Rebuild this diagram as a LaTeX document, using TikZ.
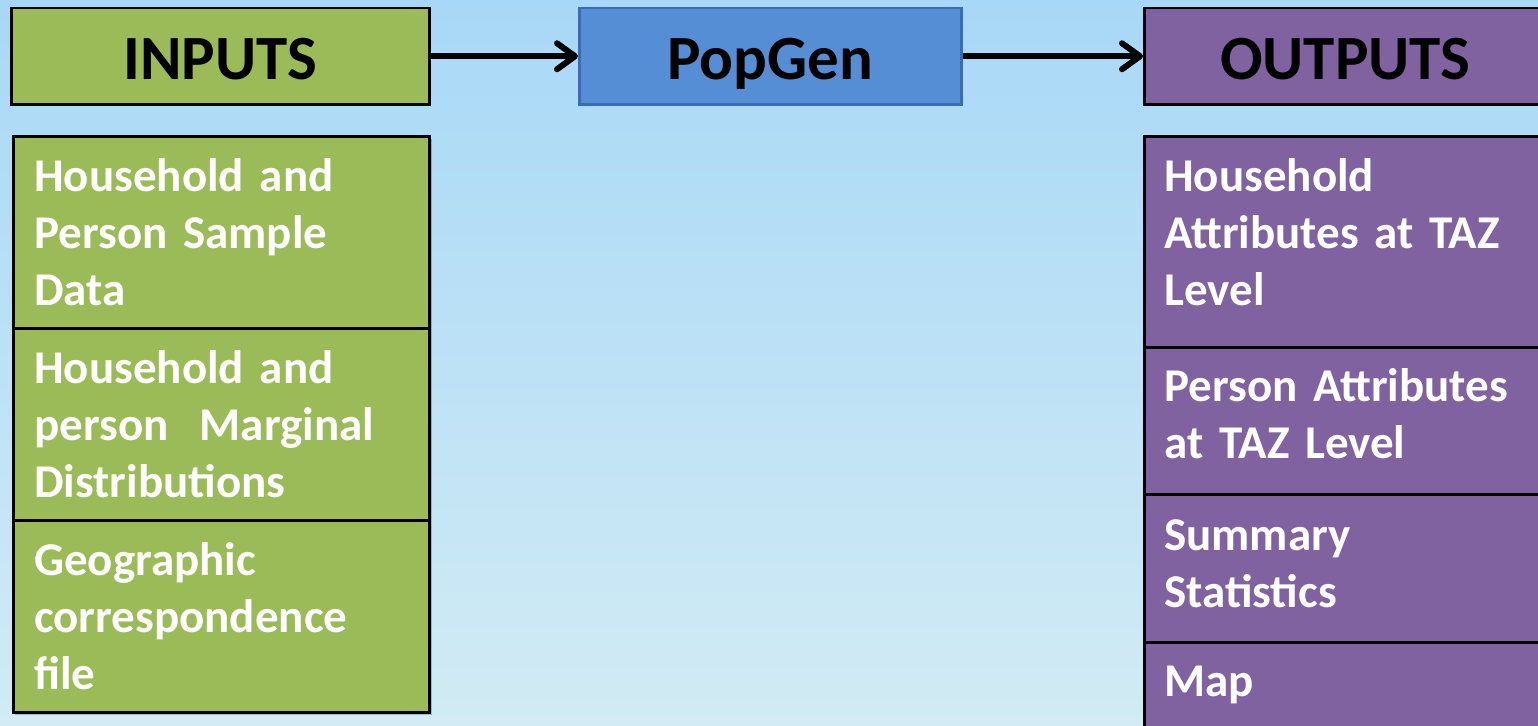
\documentclass[tikz,border=0pt]{standalone}
\usepackage{fontspec}
\setmainfont{Carlito}
\usetikzlibrary{arrows.meta}

\definecolor{inGreen}{RGB}{155,187,89}
\definecolor{popBlue}{RGB}{85,142,213}
\definecolor{popEdge}{RGB}{58,108,178}
\definecolor{outPurple}{RGB}{128,98,160}
\definecolor{skyTop}{RGB}{168,216,247}
\definecolor{skyBottom}{RGB}{210,235,244}

\tikzset{every picture/.style={line width=2.5pt}}
\tikzset{
  headbox/.style={draw=black, anchor=north west, minimum height=96pt, inner sep=0pt,
    text height=46pt, text depth=0pt, font=\fontsize{63}{70}\selectfont\bfseries},
  listbox/.style={draw=black, anchor=north west, align=left, inner xsep=21pt, inner ysep=0pt,
    text width=374pt, text=white, font=\fontsize{47}{57}\selectfont\bfseries},
  outbox/.style={listbox, fill=outPurple, inner xsep=20pt, text width=362pt},
  flow/.style={-{Straight Barb[length=18pt,width=26pt,round]}, line width=6pt}
}

\begin{document}
\begin{tikzpicture}[x=1pt,y=1pt,yscale=-1,xscale=1]
		\useasboundingbox (0,0) rectangle (1538,725);
		\clip (0,0) rectangle (1538,725);
		%Shape: Background
		\shade [top color=skyTop, bottom color=skyBottom] (0,0) rectangle (1538,725);

		%Shape: Header boxes
		\node [headbox, fill=inGreen, minimum width=418pt] (inputs) at (10,7) {INPUTS};
		\node [headbox, fill=popBlue, draw=popEdge, minimum width=382pt] (popgen) at (578,7) {PopGen};
		\node [headbox, fill=outPurple, minimum width=402pt] (outputs) at (1143,7) {OUTPUTS};

		%Straight Lines: flow arrows
		\draw [flow] (inputs.east) -- (popgen.west);
		\draw [flow] (popgen.east) -- (outputs.west);

		%Shape: shadow under inputs list
		\fill [black, opacity=0.22] (15,139) rectangle (432,715);

		%Shape: Inputs list
		\node [listbox, fill=inGreen, minimum height=192pt] (in1) at (12,135) {Household and\\Person Sample\\Data};
		\node [listbox, fill=inGreen, minimum height=192pt] (in2) at (12,327) {Household and\\person\ \ Marginal\\Distributions};
		\node [listbox, fill=inGreen, minimum height=192pt] (in3) at (12,519) {Geographic\\correspondence\\file};

		%Shape: Outputs list
		\node [outbox, minimum height=211pt, text depth=134pt] (out1) at (1143,135) {Household\\Attributes at TAZ\\Level};
		\node [outbox, minimum height=147pt, text depth=71pt] (out2) at (1143,346) {Person Attributes\\at TAZ Level};
		\node [outbox, minimum height=148pt, text depth=67pt] (out3) at (1143,493) {Summary\\Statistics};
		\node [outbox, minimum height=86pt] (out4) at (1143,641) {Map};
\end{tikzpicture}
\end{document}
